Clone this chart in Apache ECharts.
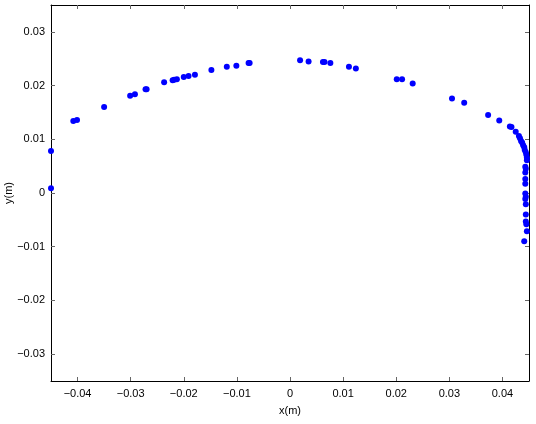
<!DOCTYPE html>
<html>
<head>
<meta charset="utf-8">
<script src="https://cdn.jsdelivr.net/npm/echarts@6/dist/echarts.min.js"></script>
<style>
  html, body { margin: 0; padding: 0; background: #fff; }
  #chart { width: 536px; height: 424px; }
</style>
</head>
<body>
<div id="chart"></div>
<script>
/* ---------- data ---------- */
const xValues = [
  -0.0450, -0.0450, -0.0408, -0.0401, -0.0350, -0.0301, -0.0292, -0.0272, -0.0270,
  -0.0237, -0.0221, -0.0218, -0.0213, -0.0200, -0.0191, -0.0179, -0.0148, -0.0119,
  -0.0101, -0.0078, -0.0076, 0.0019, 0.0035, 0.0062, 0.0065, 0.0076, 0.0111, 0.0124,
  0.0201, 0.0211, 0.0231, 0.0305, 0.0328, 0.0373, 0.0394, 0.0414, 0.0417, 0.0425,
  0.0431, 0.0433, 0.0435, 0.0437, 0.0439, 0.0441, 0.0442, 0.0444, 0.0445, 0.0446,
  0.0446, 0.0443, 0.0444, 0.0443, 0.0443, 0.0443, 0.0443, 0.0444, 0.0443, 0.0444,
  0.0444, 0.0444, 0.0445, 0.0446, 0.0441
];
const yValues = [
  0.0078, 0.0009, 0.0134, 0.0136, 0.0160, 0.0181, 0.0184, 0.0193, 0.0193,
  0.0206, 0.0210, 0.0211, 0.0212, 0.0216, 0.0218, 0.0220, 0.0229, 0.0235,
  0.0237, 0.0242, 0.0242, 0.0247, 0.0245, 0.0244, 0.0244, 0.0242, 0.0235, 0.0232,
  0.0212, 0.0212, 0.0204, 0.0176, 0.0168, 0.0145, 0.0135, 0.0124, 0.0123, 0.0114,
  0.0106, 0.0102, 0.0097, 0.0094, 0.0089, 0.0085, 0.0080, 0.0076, 0.0071, 0.0066,
  0.0061, 0.0049, 0.0045, 0.0038, 0.0026, 0.0017, -0.0001, -0.0007, -0.0011, -0.0021,
  -0.0040, -0.0053, -0.0058, -0.0071, -0.0090
];
const xTicks = [-0.04, -0.03, -0.02, -0.01, 0, 0.01, 0.02, 0.03, 0.04];
const yTicks = [-0.03, -0.02, -0.01, 0, 0.01, 0.02, 0.03];

const chart = echarts.init(document.getElementById("chart"), null, { renderer: "canvas" });

const fmt = (v) => {
  const r = Math.round(v * 1000) / 1000;
  if (r === 0) return "0";
  return String(r).replace("-", "\u2212");
};

const axisFont = { fontFamily: "Liberation Sans, Arial, sans-serif", fontSize: 11, color: "#000" };
const lineStyle = { color: "#000", width: 1 };
const tick = (vals) => ({ show: true, inside: true, length: 4, lineStyle: { color: "#666" }, customValues: vals });

const option = {
  animation: false,
  backgroundColor: "#fff",
  grid: { left: 51, right: 7, top: 5, bottom: 43, containLabel: false, outerBoundsMode: "none" },
  xAxis: [
    {
      type: "value",
      min: -0.045,
      max: 0.045,
      position: "bottom",
      name: "x(m)",
      nameLocation: "middle",
      nameGap: 24,
      nameMoveOverlap: false,
      nameTextStyle: axisFont,
      axisLine: { show: true, onZero: false, lineStyle },
      axisTick: tick(xTicks),
      axisLabel: { ...axisFont, margin: 7, customValues: xTicks, formatter: fmt, hideOverlap: false },
      splitLine: { show: false },
    },
    {
      type: "value",
      min: -0.045,
      max: 0.045,
      position: "top",
      axisLine: { show: true, onZero: false, lineStyle },
      axisTick: tick(xTicks),
      axisLabel: { show: false },
      splitLine: { show: false },
    },
  ],
  yAxis: [
    {
      type: "value",
      min: -0.035,
      max: 0.035,
      position: "left",
      name: "y(m)",
      nameLocation: "middle",
      nameGap: 37,
      nameRotate: 90,
      nameMoveOverlap: false,
      nameTextStyle: axisFont,
      axisLine: { show: true, onZero: false, lineStyle },
      axisTick: tick(yTicks),
      axisLabel: { ...axisFont, margin: 6, customValues: yTicks, formatter: fmt, hideOverlap: false },
      splitLine: { show: false },
    },
    {
      type: "value",
      min: -0.035,
      max: 0.035,
      position: "right",
      axisLine: { show: true, onZero: false, lineStyle },
      axisTick: tick(yTicks),
      axisLabel: { show: false },
      splitLine: { show: false },
    },
  ],
  series: [
    {
      type: "scatter",
      xAxisIndex: 0,
      yAxisIndex: 0,
      data: xValues.map((x, i) => [x, yValues[i]]),
      symbol: "circle",
      symbolSize: 6,
      clip: false,
      itemStyle: { color: "#0000ff", opacity: 1 },
    },
  ],
};

chart.setOption(option);
</script>
</body>
</html>
